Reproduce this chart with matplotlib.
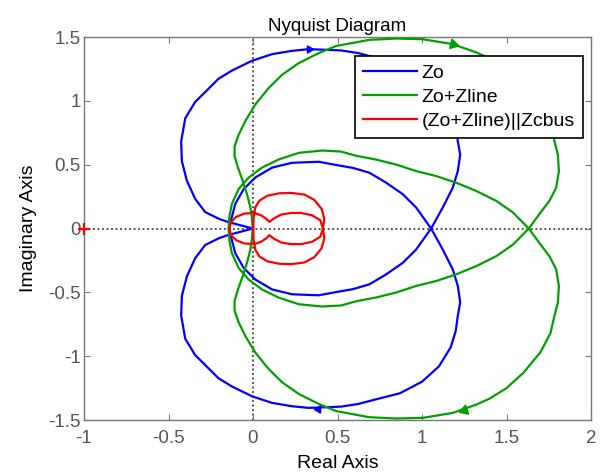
import matplotlib
matplotlib.use('Agg')
import matplotlib.pyplot as plt
import numpy as np

plt.rcParams['font.family'] = ['Liberation Sans', 'DejaVu Sans']

# upper half (Im >= 0) of each Nyquist curve, lower half is its mirror image
zo_x = [0.0, -0.145, -0.2, -0.283, -0.342, -0.391, -0.421, -0.425, -0.401, -0.342, -0.292,
        -0.204, -0.125, -0.006, 0.113, 0.231, 0.330, 0.43, 0.52, 0.62, 0.719, 0.87, 1.0,
        1.1, 1.17, 1.2, 1.212, 1.226, 1.212, 1.182, 1.123, 1.054,
        0.965, 0.886, 0.788, 0.689, 0.591, 0.524, 0.389, 0.231, 0.113, 0.014, -0.055,
        -0.105, -0.125, -0.135, -0.14]
zo_y = [0.0, 0.05, 0.075, 0.129, 0.232, 0.374, 0.528, 0.683, 0.863, 0.992, 1.057,
        1.173, 1.237, 1.314, 1.366, 1.392, 1.405, 1.40, 1.395, 1.375, 1.341, 1.29, 1.2,
        1.08, 0.93, 0.80, 0.682, 0.579, 0.450, 0.320, 0.165, 0.0,
        0.165, 0.269, 0.359, 0.437, 0.475, 0.49, 0.523, 0.515, 0.477, 0.40, 0.309,
        0.193, 0.090, 0.04, 0.0]

zl_x = [-0.002, -0.006, -0.016, -0.036, -0.061, -0.089, -0.109, -0.109, -0.085, -0.045,
        0.014, 0.093, 0.172, 0.271, 0.389, 0.492, 0.689, 0.847, 1.005, 1.182, 1.320,
        1.399, 1.5, 1.6, 1.7, 1.76, 1.784, 1.804, 1.810, 1.794, 1.754, 1.695, 1.632,
        1.537, 1.439, 1.320, 1.202, 1.084, 0.965, 0.847, 0.729, 0.61, 0.52, 0.409,
        0.271, 0.152, 0.053, -0.026, -0.085, -0.125, -0.140, -0.144]
zl_y = [0.0, 0.077, 0.168, 0.271, 0.374, 0.477, 0.567, 0.644, 0.735, 0.843,
        0.972, 1.101, 1.204, 1.296, 1.374, 1.430, 1.478, 1.488, 1.483, 1.444, 1.380,
        1.333, 1.25, 1.13, 0.97, 0.82, 0.682, 0.579, 0.450, 0.320, 0.217, 0.114, 0.0,
        0.127, 0.217, 0.295, 0.359, 0.411, 0.450, 0.501, 0.540, 0.57, 0.603, 0.611,
        0.593, 0.541, 0.477, 0.399, 0.309, 0.193, 0.090, 0.0]

zc_x = [0.0, 0.002, 0.004, 0.014, 0.038, 0.087, 0.156, 0.225, 0.304, 0.363, 0.406,
        0.422, 0.414, 0.398, 0.349, 0.284, 0.225, 0.166, 0.122, 0.097, 0.077, 0.047,
        0.008, -0.051, -0.100, -0.130, -0.140]
zc_y = [0.0, 0.01, 0.089, 0.167, 0.219, 0.258, 0.276, 0.279, 0.266, 0.224, 0.154,
        0.076, 0.0, 0.065, 0.104, 0.122, 0.122, 0.109, 0.078, 0.052, 0.078, 0.104,
        0.122, 0.117, 0.091, 0.052, 0.0]

# direction arrows: x, y, pointing angle (deg)
zo_arrow_x = [0.33, 0.383]
zo_arrow_y = [1.405, -1.414]
zo_arrow_ang = [0, 180]
zl_arrow_x = [1.182, 1.25]
zl_arrow_y = [1.444, -1.42]
zl_arrow_ang = [-14, -162]

labels = ['Zo', 'Zo+Zline', '(Zo+Zline)||Zcbus']
blue, green, red = '#0000ff', '#00a000', '#ff0000'

fig = plt.figure(figsize=(6, 4.76), dpi=100)
ax = fig.add_axes([0.14, 0.1176, 0.845, 0.8046])

ax.axhline(0, color='#404040', ls=(0, (1, 1.5)), lw=1.3, zorder=1)
ax.axvline(0, color='#404040', ls=(0, (1, 1.5)), lw=1.3, zorder=1)

for xs, ys, c, lab in [(zo_x, zo_y, blue, labels[0]),
                       (zl_x, zl_y, green, labels[1]),
                       (zc_x, zc_y, red, labels[2])]:
    xs = np.array(xs)
    ys = np.array(ys)
    ax.plot(xs, ys, color=c, lw=1.6, label=lab, zorder=3)
    ax.plot(xs, -ys, color=c, lw=1.6, zorder=3)

for x, y, a in zip(zo_arrow_x, zo_arrow_y, zo_arrow_ang):
    ax.plot(x, y, marker=(3, 0, a - 90), color=blue, ms=6, zorder=4)
for x, y, a in zip(zl_arrow_x, zl_arrow_y, zl_arrow_ang):
    ax.plot(x, y, marker=(3, 0, a - 90), color=green, ms=8, zorder=4)

ax.plot(-1, 0, marker='+', color=red, ms=8, mew=1.6, clip_on=False, zorder=5)

ax.set_xlim(-1, 2)
ax.set_ylim(-1.5, 1.5)
ax.set_xticks([-1, -0.5, 0, 0.5, 1, 1.5, 2])
ax.set_xticklabels(['-1', '-0.5', '0', '0.5', '1', '1.5', '2'])
ax.set_yticks([-1.5, -1, -0.5, 0, 0.5, 1, 1.5])
ax.set_yticklabels(['-1.5', '-1', '-0.5', '0', '0.5', '1', '1.5'])
ax.tick_params(direction='in', top=True, right=True, length=4, width=0.8,
               colors='#777777', labelcolor='#555555', labelsize=13.5)
ax.tick_params(axis='x', pad=7.5)
ax.tick_params(axis='y', pad=2.5)
for s in ax.spines.values():
    s.set_color('#777777')
    s.set_linewidth(1.0)

ax.set_title('Nyquist Diagram', fontsize=13.5, pad=4)
ax.set_xlabel('Real Axis', fontsize=14, labelpad=5.5)
ax.set_ylabel('Imaginary Axis', fontsize=14, labelpad=8)

leg = ax.legend(loc='upper right', bbox_to_anchor=(0.984, 0.9504), fontsize=14,
                fancybox=False, framealpha=1, edgecolor='black', handlelength=2.75,
                handletextpad=0.25, borderpad=0.42, labelspacing=0.34, borderaxespad=0)
leg.get_frame().set_linewidth(1.2)

fig.savefig('out.png', dpi=100)
